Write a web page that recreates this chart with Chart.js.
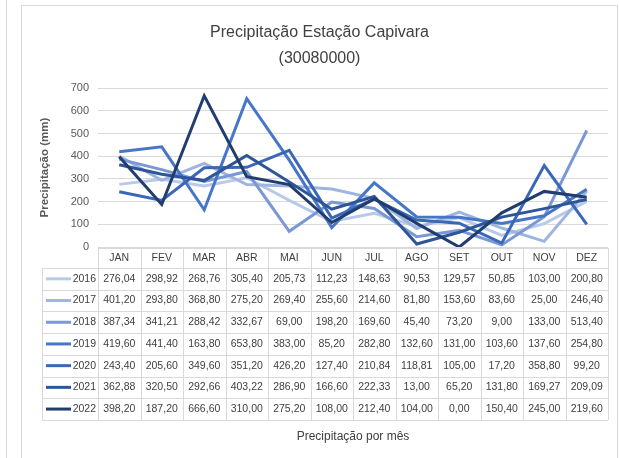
<!DOCTYPE html>
<html>
<head>
<meta charset="utf-8">
<script src="https://cdn.jsdelivr.net/npm/chart.js@4/dist/chart.umd.min.js"></script>
<style>
html,body{margin:0;padding:0;background:#fff;}
#wrap{width:619px;height:458px;}
</style>
</head>
<body>
<div id="wrap"><canvas id="chart" width="619" height="458"></canvas></div>
<script>
// -------------------- DATA -------------------
const Months = ['JAN','FEV','MAR','ABR','MAI','JUN','JUL','AGO','SET','OUT','NOV','DEZ'];
const Years = ['2016','2017','2018','2019','2020','2021','2022'];

const P2016 = [276.04, 298.92, 268.76, 305.40, 205.73, 112.23, 148.63, 90.53, 129.57, 50.85, 103.00, 200.80];
const P2017 = [401.20, 293.80, 368.80, 275.20, 269.40, 255.60, 214.60, 81.80, 153.60, 83.60, 25.00, 246.40];
const P2018 = [387.34, 341.21, 288.42, 332.67, 69.00, 198.20, 169.60, 45.40, 73.20, 9.00, 133.00, 513.40];
const P2019 = [419.60, 441.40, 163.80, 653.80, 383.00, 85.20, 282.80, 132.60, 131.00, 103.60, 137.60, 254.80];
const P2020 = [243.40, 205.60, 349.60, 351.20, 426.20, 127.40, 210.84, 118.81, 105.00, 17.20, 358.80, 99.20];
const P2021 = [362.88, 320.50, 292.66, 403.22, 286.90, 166.60, 222.33, 13.00, 65.20, 131.80, 169.27, 209.09];
const P2022 = [398.20, 187.20, 666.60, 310.00, 275.20, 108.00, 212.40, 104.00, 0.00, 150.40, 245.00, 219.60];

const SeriesValues = [P2016, P2017, P2018, P2019, P2020, P2021, P2022];
const SeriesColors = ['#b9cae9', '#9fb5e0', '#7a98d4', '#4776c8', '#3a67b7', '#2e5598', '#213d70'];

const YMin = 0;
const YMax = 700;
const YStep = 100;

const FONT = "'Liberation Sans Narrow', 'Arial Narrow', 'Liberation Sans', sans-serif";
const TEXT = '#404040';
const LINE = '#d9d9d9';

// -------------------- PLUGINS -------------------
const FramePlugin = {
  id: 'frame',
  beforeDraw(chart) {
    let ctx = chart.ctx;
    ctx.save();
    ctx.fillStyle = '#fff';
    ctx.fillRect(0, 0, chart.width, chart.height);
    ctx.strokeStyle = LINE;
    ctx.lineWidth = 1;
    ctx.beginPath();
    ctx.moveTo(6.5, 0);
    ctx.lineTo(6.5, chart.height);
    ctx.moveTo(21.5, chart.height);
    ctx.lineTo(21.5, 5.5);
    ctx.lineTo(617.5, 5.5);
    ctx.lineTo(617.5, chart.height);
    ctx.stroke();
    ctx.restore();
  }
};

function fmt(v) {
  return v.toFixed(2).replace('.', ',');
}

const TablePlugin = {
  id: 'dataTable',
  afterDraw(chart) {
    let ctx = chart.ctx;
    let xs = chart.scales.x;
    let area = chart.chartArea;
    let colW = (area.right - area.left) / Months.length;
    let headTop = area.bottom + 1;
    let headH = 20;
    let rowH = 21.7;
    let labelLeft = 42;
    let bodyTop = headTop + headH;
    let bodyBottom = bodyTop + rowH * Years.length;

    ctx.save();
    ctx.strokeStyle = LINE;
    ctx.lineWidth = 1;

    // header cells
    ctx.beginPath();
    ctx.moveTo(area.left, Math.round(headTop) + 0.5);
    ctx.lineTo(area.right, Math.round(headTop) + 0.5);
    for (let i = 0; i <= Months.length; ++i) {
      let x = Math.round(area.left + i * colW) + 0.5;
      ctx.moveTo(x, headTop);
      ctx.lineTo(x, bodyBottom);
    }
    // body rows
    for (let r = 0; r <= Years.length; ++r) {
      let y = Math.round(bodyTop + r * rowH) + 0.5;
      ctx.moveTo(labelLeft, y);
      ctx.lineTo(area.right, y);
    }
    ctx.moveTo(labelLeft + 0.5, bodyTop);
    ctx.lineTo(labelLeft + 0.5, bodyBottom);
    ctx.stroke();

    ctx.font = '10.5px ' + FONT;
    ctx.fillStyle = TEXT;
    ctx.textAlign = 'center';
    ctx.textBaseline = 'middle';
    for (let i = 0; i < Months.length; ++i) {
      ctx.fillText(Months[i], xs.getPixelForValue(i), headTop + headH / 2);
    }

    for (let r = 0; r < Years.length; ++r) {
      let cy = bodyTop + r * rowH + rowH / 2;
      // legend key
      ctx.strokeStyle = SeriesColors[r];
      ctx.lineWidth = 3;
      ctx.beginPath();
      ctx.moveTo(labelLeft + 4, cy);
      ctx.lineTo(labelLeft + 29, cy);
      ctx.stroke();
      ctx.fillStyle = TEXT;
      ctx.textAlign = 'right';
      ctx.fillText(Years[r], area.left - 2, cy);
      ctx.textAlign = 'center';
      for (let i = 0; i < Months.length; ++i) {
        ctx.fillText(fmt(SeriesValues[r][i]), xs.getPixelForValue(i), cy);
      }
    }

    ctx.font = '12px ' + FONT;
    ctx.fillText('Precipitação por mês', (area.left + area.right) / 2, bodyBottom + 17);
    ctx.restore();
  }
};

// -------------------- CHART -------------------
let datasets = [];
for (let i = 0; i < Years.length; ++i) {
  datasets.push({
    label: Years[i],
    data: SeriesValues[i],
    borderColor: SeriesColors[i],
    backgroundColor: SeriesColors[i],
    borderWidth: 3,
    pointRadius: 0,
    tension: 0,
    fill: false,
    order: Years.length - i
  });
}

new Chart(document.getElementById('chart'), {
  type: 'line',
  data: {
    labels: Months,
    datasets: datasets
  },
  options: {
    responsive: false,
    animation: false,
    layout: {
      padding: { left: 21, right: 1, top: 5, bottom: 211 }
    },
    plugins: {
      legend: { display: false },
      tooltip: { enabled: false },
      title: {
        display: true,
        text: ['Precipitação Estação Capivara', '(30080000)'],
        color: TEXT,
        font: { family: FONT, size: 16, weight: 'normal', lineHeight: 1.6 },
        padding: { top: 15, bottom: 17 }
      }
    },
    scales: {
      x: {
        display: false,
        offset: true
      },
      y: {
        min: YMin,
        max: YMax,
        ticks: {
          stepSize: YStep,
          color: '#595959',
          padding: 9,
          font: { family: FONT, size: 11 }
        },
        grid: {
          color: LINE,
          lineWidth: 1,
          drawTicks: false
        },
        border: { display: false },
        title: {
          display: true,
          text: 'Precipitação (mm)',
          color: '#595959',
          font: { family: FONT, size: 11.5, weight: 'bold' },
          padding: { top: 17, bottom: 0 }
        },
        afterFit: function(scale) { scale.width = 77; }
      },
      y2: {
        position: 'right',
        display: true,
        grid: { display: false },
        ticks: { display: false },
        border: { display: false },
        afterFit: function(scale) { scale.width = 10; }
      }
    }
  },
  plugins: [FramePlugin, TablePlugin]
});
</script>
</body>
</html>
